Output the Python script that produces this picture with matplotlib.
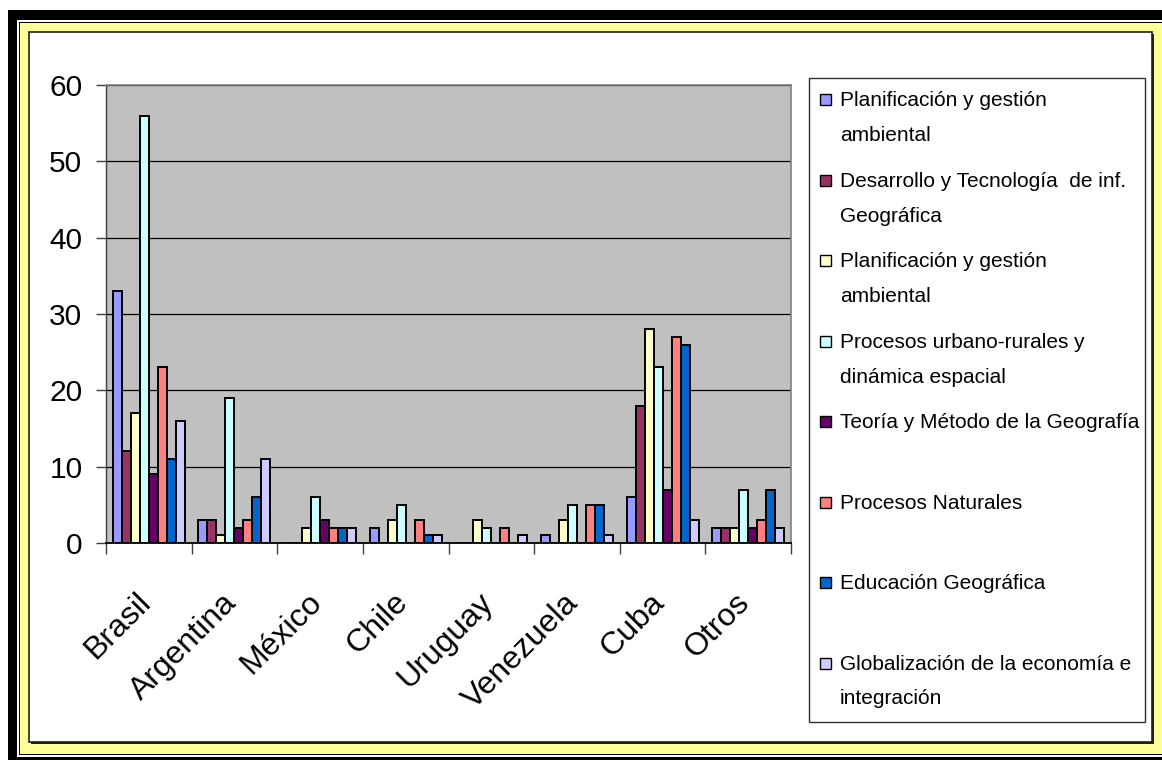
import matplotlib
matplotlib.use("Agg")
import matplotlib.pyplot as plt
from matplotlib.patches import Rectangle
from matplotlib import font_manager
import matplotlib.transforms as mtransforms
import numpy as np

plt.rcParams['font.family'] = ['Liberation Sans', 'DejaVu Sans']

# ---------------- data ----------------
countries = ["Brasil", "Argentina", "México", "Chile", "Uruguay", "Venezuela", "Cuba", "Otros"]
series_names = [
    "Planificación y gestión\nambiental",
    "Desarrollo y Tecnología  de inf.\nGeográfica",
    "Planificación y gestión\nambiental",
    "Procesos urbano-rurales y\ndinámica espacial",
    "Teoría y Método de la Geografía",
    "Procesos Naturales",
    "Educación Geográfica",
    "Globalización de la economía e\nintegración",
]
plan_amb_1 = [33, 3, 0, 2, 0, 1, 6, 2]
desarrollo_tig = [12, 3, 0, 0, 0, 0, 18, 2]
plan_amb_2 = [17, 1, 2, 3, 3, 3, 28, 2]
procesos_urb = [56, 19, 6, 5, 2, 5, 23, 7]
teoria_metodo = [9, 2, 3, 0, 0, 0, 7, 2]
procesos_nat = [23, 3, 2, 3, 2, 5, 27, 3]
educacion = [11, 6, 2, 1, 0, 5, 26, 7]
globalizacion = [16, 11, 2, 1, 1, 1, 3, 2]
series_values = [plan_amb_1, desarrollo_tig, plan_amb_2, procesos_urb,
                 teoria_metodo, procesos_nat, educacion, globalizacion]
colors = ["#9999FF", "#993366", "#FFFFCC", "#CCFFFF",
          "#660066", "#FF8080", "#0066CC", "#CCCCFF"]
y_ticks = [0, 10, 20, 30, 40, 50, 60]

# legend font: narrow if available
_names = {f.name for f in font_manager.fontManager.ttflist}
if "Liberation Sans Narrow" in _names:
    leg_family, leg_size = ["Liberation Sans Narrow", "DejaVu Sans"], 18
else:
    leg_family, leg_size = ["Liberation Sans", "DejaVu Sans"], 15

# ---------------- figure ----------------
W, H = 1162, 760
fig = plt.figure(figsize=(W / 100, H / 100), dpi=100)
fig.patch.set_facecolor("white")


def prect(x0, y0, x1, y1, **kw):
    r = Rectangle((x0 / W, 1 - y1 / H), (x1 - x0) / W, (y1 - y0) / H,
                  transform=fig.transFigure, **kw)
    fig.add_artist(r)
    return r


# decorative frame
prect(8, 10, 1200, 800, facecolor="black", edgecolor="none", zorder=-20)
prect(17, 20, 1200, 757, facecolor="white", edgecolor="none", zorder=-19)
prect(19, 22, 1200, 755, facecolor="black", edgecolor="none", zorder=-18)
prect(20, 23, 1200, 754, facecolor="#FFFF99", edgecolor="none", zorder=-17)
prect(31, 34, 1154, 744, facecolor="#202020", edgecolor="none", zorder=-16)
prect(29, 32, 1152, 742, facecolor="white", edgecolor="#202020", linewidth=1.2, zorder=-15)

# ---------------- axes ----------------
ax_l, ax_r, ax_t, ax_b = 106, 791, 85, 543
ax = fig.add_axes([ax_l / W, 1 - ax_b / H, (ax_r - ax_l) / W, (ax_b - ax_t) / H])
ax.set_facecolor("#C0C0C0")

n = len(series_values)
bw = 0.105
x = np.arange(len(countries))
for j, (vals, col) in enumerate(zip(series_values, colors)):
    ax.bar(x + (j - (n - 1) / 2) * bw, vals, width=bw, color=col,
           edgecolor="black", linewidth=1.4, zorder=3)

ax.set_xlim(-0.5, len(countries) - 0.5)
ax.set_ylim(0, 60)
ax.set_yticks(y_ticks)
ax.set_yticklabels([str(v) for v in y_ticks], fontsize=21.5)
ax.tick_params(axis="y", direction="out", length=7, width=1, color="#404040", pad=10)
ax.yaxis.grid(True, color="black", linewidth=0.9, zorder=1)
ax.set_axisbelow(True)

ax.set_xticks(x)
ax.set_xticklabels(countries, fontsize=23, rotation=45, ha="right", va="top",
                   rotation_mode="default")
ax.tick_params(axis="x", which="major", length=0, pad=32)
shift = mtransforms.ScaledTranslation(8 / 100, 0, fig.dpi_scale_trans)
for lab in ax.get_xticklabels():
    lab.set_transform(lab.get_transform() + shift)
ax.set_xticks(np.arange(len(countries) + 1) - 0.5, minor=True)
ax.tick_params(axis="x", which="minor", direction="out", length=8, width=1, color="#404040")

for s in ["top", "right"]:
    ax.spines[s].set_color("#808080")
    ax.spines[s].set_linewidth(1.2)
ax.spines["left"].set_color("#404040")
ax.spines["left"].set_linewidth(1.0)
ax.spines["bottom"].set_color("black")
ax.spines["bottom"].set_linewidth(1.3)

# ---------------- legend ----------------
lx0, lx1, ly0, ly1 = 809, 1145, 78, 722
lax = fig.add_axes([lx0 / W, 1 - ly1 / H, (lx1 - lx0) / W, (ly1 - ly0) / H])
lax.set_xlim(lx0, lx1)
lax.set_ylim(ly1, ly0)
lax.axis("off")
lax.add_patch(Rectangle((lx0, ly0), lx1 - lx0, ly1 - ly0, facecolor="white",
                        edgecolor="#303030", linewidth=1.0, clip_on=False))
base0, step, line_h = 106, 80.5, 35
for k, (name, col) in enumerate(zip(series_names, colors)):
    b = base0 + k * step
    lax.add_patch(Rectangle((820, b - 12), 11, 11, facecolor=col,
                            edgecolor="black", linewidth=1.0))
    for li, line in enumerate(name.split("\n")):
        lax.text(840, b + li * line_h, line, fontsize=leg_size, family=leg_family,
                 ha="left", va="baseline", color="black")

fig.savefig("out.png", dpi=100, facecolor=fig.get_facecolor())
